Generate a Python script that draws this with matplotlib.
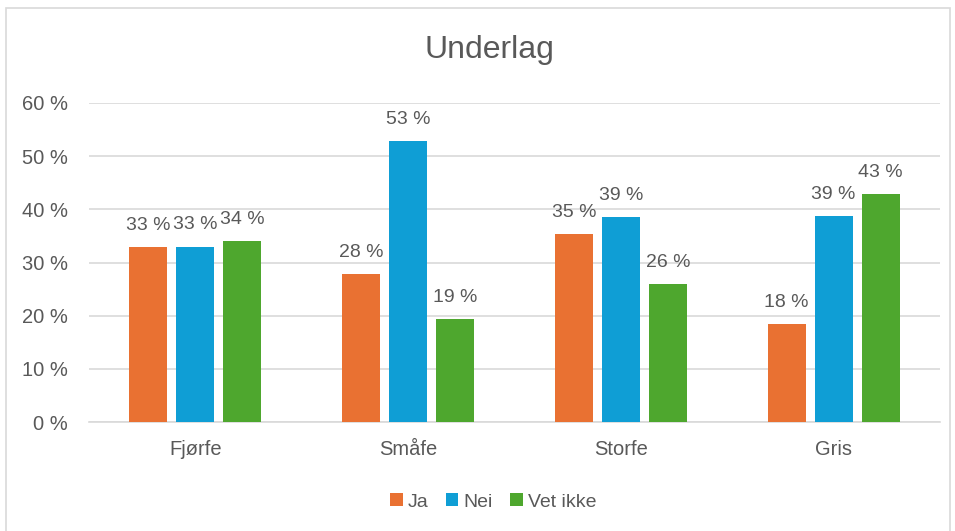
import matplotlib
matplotlib.use("Agg")
import matplotlib.pyplot as plt
import numpy as np
from matplotlib.patches import Rectangle

categories = ["Fjørfe", "Småfe", "Storfe", "Gris"]
series_names = ["Ja", "Nei", "Vet ikke"]
ja = [32.9, 27.8, 35.3, 18.4]
nei = [33.0, 52.8, 38.6, 38.7]
vet_ikke = [34.0, 19.4, 26.0, 42.8]
labels_ja = ["33 %", "28 %", "35 %", "18 %"]
labels_nei = ["33 %", "53 %", "39 %", "39 %"]
labels_vet = ["34 %", "19 %", "26 %", "43 %"]
yticks = [0, 10, 20, 30, 40, 50, 60]
ytick_labels = ["0 %", "10 %", "20 %", "30 %", "40 %", "50 %", "60 %"]

colors = ["#E97132", "#0F9ED5", "#4EA72E"]
text_color = "#595959"
plt.rcParams['font.family'] = ['Liberation Sans', 'DejaVu Sans']

fig = plt.figure(figsize=(9.55, 5.31), dpi=100)
W, H = 955, 531
ax = fig.add_axes([89 / W, 1 - 422 / H, (940 - 89) / W, (422 - 103) / H])

fig.patches.append(Rectangle((6 / W, -0.01), (950 - 6) / W, 1 - 8 / H + 0.01,
                             transform=fig.transFigure, fill=False,
                             edgecolor="#D9D9D9", linewidth=1.2))

x = np.arange(len(categories))
bw = 0.179
off = 0.221
all_series = [ja, nei, vet_ikke]
all_labels = [labels_ja, labels_nei, labels_vet]
for i, (vals, labs) in enumerate(zip(all_series, all_labels)):
    pos = x + (i - 1) * off
    bars = ax.bar(pos, vals, width=bw, color=colors[i], label=series_names[i], zorder=3)
    for b, v, lab in zip(bars, vals, labs):
        ax.annotate(lab, (b.get_x() + b.get_width() / 2, v), xytext=(0, 9.5),
                    textcoords="offset points", ha="center", va="bottom",
                    fontsize=14, color=text_color)

ax.set_xlim(-0.5, len(categories) - 0.5)
ax.set_ylim(0, 60)
ax.set_yticks(yticks)
ax.set_yticklabels(ytick_labels)
ax.set_xticks(x)
ax.set_xticklabels(categories)
ax.tick_params(axis="both", length=0, labelsize=14.5, colors=text_color)
ax.tick_params(axis="x", pad=13)
ax.tick_params(axis="y", pad=15)
ax.grid(axis="y", color="#D9D9D9", linewidth=1.2, zorder=0)
for s in ["top", "right", "left"]:
    ax.spines[s].set_visible(False)
ax.spines["bottom"].set_color("#D9D9D9")
ax.spines["bottom"].set_linewidth(1.2)

fig.text(489 / W, 1 - 50 / H, "Underlag", ha="center", va="center",
         fontsize=23, color=text_color)

leg = fig.legend(loc="center", bbox_to_anchor=(493 / W, 1 - 502 / H), ncol=3,
                 frameon=False, fontsize=14, handlelength=0.65, handleheight=0.65,
                 handletextpad=0.25, columnspacing=0.9)
for t in leg.get_texts():
    t.set_color(text_color)

fig.savefig("out.png", dpi=100)
